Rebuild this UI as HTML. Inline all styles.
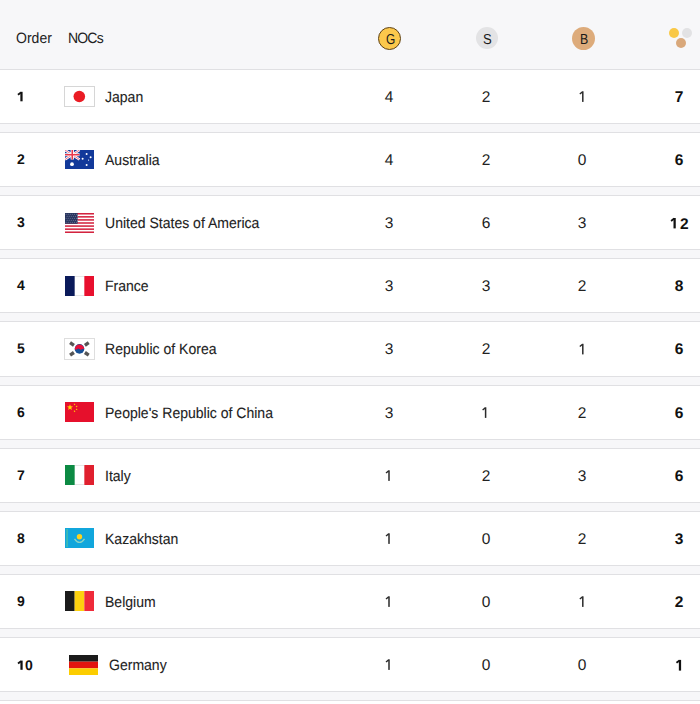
<!DOCTYPE html>
<html><head><meta charset="utf-8"><style>
*{margin:0;padding:0;box-sizing:border-box}
html,body{width:700px;height:704px;overflow:hidden;background:#f7f7f9;font-family:"Liberation Sans",sans-serif;color:#222;}
.abs{position:absolute}
.hd{position:absolute;left:0;top:0;width:700px;height:69px;background:#f7f7f9;}
.ht{position:absolute;top:31px;font-size:15px;line-height:16px;color:#222;text-rendering:geometricPrecision;transform:scaleX(0.935);transform-origin:0 0}
.ml{position:absolute;top:32px;font-size:14.5px;line-height:16px;color:#1a1a1a;text-rendering:geometricPrecision;transform-origin:0 0}
.medal{position:absolute;top:27px;width:22px;height:22px;border-radius:50%;font-size:14px;line-height:22px;text-align:center;color:#222;}
.row{position:absolute;left:0;width:700px;background:#fff;border-top:1px solid #e0e0e3;border-bottom:1px solid #e0e0e3;}
.t{position:absolute;font-size:14px;line-height:16px;white-space:nowrap;text-rendering:geometricPrecision}
.nm{font-size:15px;transform:scaleX(0.935);transform-origin:0 0;-webkit-text-stroke:0.1px #222}
.ord{font-weight:bold;color:#111;left:16px;font-size:14px}
.num{width:40px;text-align:center;font-size:15.5px}
.tot{font-weight:bold;color:#111;width:40px;text-align:center;font-size:15.5px}
.flag{position:absolute;}
.flag svg{display:block}
</style></head><body>
<div class="hd">
<div class="ht" style="left:16px">Order</div>
<div class="ht" style="left:68px;letter-spacing:-0.9px">NOCs</div>
<div class="medal" style="left:378px;width:23px;height:23px;background:#fcc84c;border:1px solid #5e4218"></div>
<div class="ml" style="left:386px;transform:scaleX(0.82)">G</div>
<div class="medal" style="left:476px;background:#e3e3e5"></div>
<div class="ml" style="left:483px;transform:scaleX(0.9)">S</div>
<div class="medal" style="left:572px;width:23px;height:23px;background:#ddab7b"></div>
<div class="ml" style="left:580px;transform:scaleX(0.85)">B</div>
<div class="abs" style="left:669px;top:28px;width:10px;height:10px;border-radius:50%;background:#f9c846"></div>
<div class="abs" style="left:682px;top:28px;width:10px;height:10px;border-radius:50%;background:#e2e2e4"></div>
<div class="abs" style="left:676px;top:38px;width:10px;height:10px;border-radius:50%;background:#d9a87b"></div>
</div>
<div class="abs" style="left:0;top:69px;width:700px;height:1px;background:#e0e0e3"></div>
<div class="row" style="top:69px;height:55px"></div><div class="flag" style="left:64px;top:86px"><svg width="31" height="21" viewBox="0 0 31 21"><rect x="0.5" y="0.5" width="30" height="20" fill="#fff" stroke="#d6d6d6"/><circle cx="15.3" cy="10.5" r="5.8" fill="#ea1c24"/></svg></div><div class="t nm" style="left:105px;top:90px">Japan</div><div class="t num" style="left:369px;top:90px">4</div><div class="t num" style="left:466px;top:90px">2</div><div class="t tot" style="left:659px;top:90px">7</div>
<div class="row" style="top:132px;height:55px"></div><div class="t ord" style="top:151px;left:17px">2</div><div class="flag" style="left:65px;top:150px"><svg width="29" height="19" viewBox="0 0 29 19"><rect width="29" height="19" fill="#12399a"/><g transform="scale(1.036,0.95)"><path d="M0 0L14 10M14 0L0 10" stroke="#fff" stroke-width="2.4"/><path d="M0 0L14 10M14 0L0 10" stroke="#e8506a" stroke-width="0.8"/><path d="M7 0V10M0 5H14" stroke="#fff" stroke-width="3.2"/><path d="M7 0V10M0 5H14" stroke="#e8364a" stroke-width="1.5"/></g><circle cx="7" cy="14.2" r="1.9" fill="#fff"/><circle cx="21.6" cy="4.1" r="1" fill="#fff"/><circle cx="17.6" cy="8.7" r="1" fill="#fff"/><circle cx="25.6" cy="7.3" r="1" fill="#fff"/><circle cx="21.6" cy="15" r="1" fill="#fff"/><circle cx="23.6" cy="10.1" r="0.6" fill="#fff"/></svg></div><div class="t nm" style="left:105px;top:153px">Australia</div><div class="t num" style="left:369px;top:153px">4</div><div class="t num" style="left:466px;top:153px">2</div><div class="t num" style="left:562px;top:153px">0</div><div class="t tot" style="left:659px;top:153px">6</div>
<div class="row" style="top:195px;height:55px"></div><div class="t ord" style="top:214px;left:17px">3</div><div class="flag" style="left:65px;top:213px"><svg width="29" height="20" viewBox="0 0 29 20"><rect width="29" height="20" fill="#fff"/><rect y="0.000" width="29" height="1.538" fill="#d3233f"/><rect y="3.077" width="29" height="1.538" fill="#d3233f"/><rect y="6.154" width="29" height="1.538" fill="#d3233f"/><rect y="9.231" width="29" height="1.538" fill="#d3233f"/><rect y="12.308" width="29" height="1.538" fill="#d3233f"/><rect y="15.385" width="29" height="1.538" fill="#d3233f"/><rect y="18.462" width="29" height="1.538" fill="#d3233f"/><rect width="12.6" height="10.769" fill="#27345e"/><circle cx="1.10" cy="1.20" r="0.42" fill="#c8cde0"/><circle cx="3.15" cy="1.20" r="0.42" fill="#c8cde0"/><circle cx="5.20" cy="1.20" r="0.42" fill="#c8cde0"/><circle cx="7.25" cy="1.20" r="0.42" fill="#c8cde0"/><circle cx="9.30" cy="1.20" r="0.42" fill="#c8cde0"/><circle cx="11.35" cy="1.20" r="0.42" fill="#c8cde0"/><circle cx="2.10" cy="3.20" r="0.42" fill="#c8cde0"/><circle cx="4.15" cy="3.20" r="0.42" fill="#c8cde0"/><circle cx="6.20" cy="3.20" r="0.42" fill="#c8cde0"/><circle cx="8.25" cy="3.20" r="0.42" fill="#c8cde0"/><circle cx="10.30" cy="3.20" r="0.42" fill="#c8cde0"/><circle cx="12.35" cy="3.20" r="0.42" fill="#c8cde0"/><circle cx="1.10" cy="5.20" r="0.42" fill="#c8cde0"/><circle cx="3.15" cy="5.20" r="0.42" fill="#c8cde0"/><circle cx="5.20" cy="5.20" r="0.42" fill="#c8cde0"/><circle cx="7.25" cy="5.20" r="0.42" fill="#c8cde0"/><circle cx="9.30" cy="5.20" r="0.42" fill="#c8cde0"/><circle cx="11.35" cy="5.20" r="0.42" fill="#c8cde0"/><circle cx="2.10" cy="7.20" r="0.42" fill="#c8cde0"/><circle cx="4.15" cy="7.20" r="0.42" fill="#c8cde0"/><circle cx="6.20" cy="7.20" r="0.42" fill="#c8cde0"/><circle cx="8.25" cy="7.20" r="0.42" fill="#c8cde0"/><circle cx="10.30" cy="7.20" r="0.42" fill="#c8cde0"/><circle cx="12.35" cy="7.20" r="0.42" fill="#c8cde0"/><circle cx="1.10" cy="9.20" r="0.42" fill="#c8cde0"/><circle cx="3.15" cy="9.20" r="0.42" fill="#c8cde0"/><circle cx="5.20" cy="9.20" r="0.42" fill="#c8cde0"/><circle cx="7.25" cy="9.20" r="0.42" fill="#c8cde0"/><circle cx="9.30" cy="9.20" r="0.42" fill="#c8cde0"/><circle cx="11.35" cy="9.20" r="0.42" fill="#c8cde0"/></svg></div><div class="t nm" style="left:105px;top:216px">United States of America</div><div class="t num" style="left:369px;top:216px">3</div><div class="t num" style="left:466px;top:216px">6</div><div class="t num" style="left:562px;top:216px">3</div><div class="t tot" style="left:680px;top:217px;width:auto;text-align:left">2</div>
<div class="row" style="top:258px;height:55px"></div><div class="t ord" style="top:277px;left:17px">4</div><div class="flag" style="left:65px;top:276px"><svg width="29" height="20" viewBox="0 0 29 20"><rect width="29" height="20" fill="#fff"/><rect x="9.67" y="0" width="9.67" height="0.7" fill="#dcdcdc"/><rect x="9.67" y="19.3" width="9.67" height="0.7" fill="#dcdcdc"/><rect width="9.67" height="20" fill="#0a1a5a"/><rect x="19.33" width="9.67" height="20" fill="#e8102e"/></svg></div><div class="t nm" style="left:105px;top:279px">France</div><div class="t num" style="left:369px;top:279px">3</div><div class="t num" style="left:466px;top:279px">3</div><div class="t num" style="left:562px;top:279px">2</div><div class="t tot" style="left:659px;top:279px">8</div>
<div class="row" style="top:321px;height:56px"></div><div class="t ord" style="top:340px;left:17px">5</div><div class="flag" style="left:64px;top:338px"><svg width="31" height="22" viewBox="0 0 31 22"><rect x="0.5" y="0.5" width="30" height="21" fill="#fff" stroke="#dedede"/><g transform="translate(15.5,10.9)"><circle r="4.8" fill="#164f94"/><path d="M-4.8 0.4A4.8 4.8 0 0 1 4.8 0.4Q3.6 -0.6 2.4 0.3Q1.2 1.2 0 0.2Q-1.2 -0.8 -2.4 0.3Q-3.6 1.2 -4.8 0.4z" fill="#e8113b"/></g><g fill="#555"><rect x="-1.7" y="-2.3" width="3.4" height="4.6" transform="translate(8,6) rotate(-56)"/><rect x="-1.7" y="-2.3" width="3.4" height="4.6" transform="translate(22.8,6) rotate(56)"/><rect x="-1.7" y="-2.3" width="3.4" height="4.6" transform="translate(8,15.8) rotate(56)"/><rect x="-1.7" y="-2.3" width="3.4" height="4.6" transform="translate(22.8,15.8) rotate(-56)"/></g></svg></div><div class="t nm" style="left:105px;top:342px">Republic of Korea</div><div class="t num" style="left:369px;top:342px">3</div><div class="t num" style="left:466px;top:342px">2</div><div class="t tot" style="left:659px;top:342px">6</div>
<div class="row" style="top:385px;height:55px"></div><div class="t ord" style="top:404px;left:17px">6</div><div class="flag" style="left:65px;top:402px"><svg width="29" height="20" viewBox="0 0 29 20"><rect width="29" height="20" fill="#e6102c"/><g fill="#ffd400"><polygon points="5.00,2.20 5.79,4.31 8.04,4.41 6.28,5.82 6.88,7.99 5.00,6.74 3.12,7.99 3.72,5.82 1.96,4.41 4.21,4.31"/><polygon points="9.98,1.37 9.98,2.14 10.70,2.44 9.96,2.68 9.90,3.46 9.44,2.83 8.69,3.02 9.14,2.38 8.73,1.72 9.47,1.96"/><polygon points="12.31,3.66 12.05,4.39 12.62,4.91 11.84,4.89 11.52,5.60 11.30,4.85 10.53,4.77 11.17,4.33 11.02,3.57 11.63,4.04"/><polygon points="11.60,6.20 11.87,6.93 12.65,6.96 12.04,7.44 12.25,8.19 11.60,7.76 10.95,8.19 11.16,7.44 10.55,6.96 11.33,6.93"/><polygon points="9.98,8.27 9.98,9.04 10.70,9.34 9.96,9.58 9.90,10.36 9.44,9.73 8.69,9.92 9.14,9.28 8.73,8.62 9.47,8.86"/></g></svg></div><div class="t nm" style="left:105px;top:406px">People's Republic of China</div><div class="t num" style="left:369px;top:406px">3</div><div class="t num" style="left:562px;top:406px">2</div><div class="t tot" style="left:659px;top:406px">6</div>
<div class="row" style="top:448px;height:55px"></div><div class="t ord" style="top:467px;left:17px">7</div><div class="flag" style="left:65px;top:465px"><svg width="29" height="20" viewBox="0 0 29 20"><rect width="29" height="20" fill="#fff"/><rect x="9.67" y="0" width="9.67" height="0.7" fill="#dcdcdc"/><rect x="9.67" y="19.3" width="9.67" height="0.7" fill="#dcdcdc"/><rect width="9.67" height="20" fill="#0c8a43"/><rect x="19.33" width="9.67" height="20" fill="#e0202e"/></svg></div><div class="t nm" style="left:105px;top:469px">Italy</div><div class="t num" style="left:466px;top:469px">2</div><div class="t num" style="left:562px;top:469px">3</div><div class="t tot" style="left:659px;top:469px">6</div>
<div class="row" style="top:511px;height:55px"></div><div class="t ord" style="top:530px;left:17px">8</div><div class="flag" style="left:65px;top:528px"><svg width="29" height="20" viewBox="0 0 29 20"><rect width="29" height="20" fill="#11a6dc"/><rect x="1.2" y="1" width="1.8" height="18" fill="#4cc2a6" opacity="0.7"/><circle cx="14.5" cy="8.8" r="2.7" fill="#ffd21c"/><path d="M9.5 10.8Q14.5 18 19.5 10.8" stroke="#8ad4c4" stroke-width="1.3" fill="none"/></svg></div><div class="t nm" style="left:105px;top:532px">Kazakhstan</div><div class="t num" style="left:466px;top:532px">0</div><div class="t num" style="left:562px;top:532px">2</div><div class="t tot" style="left:659px;top:532px">3</div>
<div class="row" style="top:574px;height:55px"></div><div class="t ord" style="top:593px;left:17px">9</div><div class="flag" style="left:65px;top:591px"><svg width="29" height="20" viewBox="0 0 29 20"><rect width="9.67" height="20" fill="#1b1b1b"/><rect x="9.67" width="9.67" height="20" fill="#fdd10f"/><rect x="19.33" width="9.67" height="20" fill="#ef2b3a"/></svg></div><div class="t nm" style="left:105px;top:595px">Belgium</div><div class="t num" style="left:466px;top:595px">0</div><div class="t tot" style="left:659px;top:595px">2</div>
<div class="row" style="top:637px;height:55px"></div><div class="t ord" style="top:657px;left:25px">0</div><div class="flag" style="left:69px;top:655px"><svg width="29" height="20" viewBox="0 0 29 20"><rect width="29" height="6.67" fill="#1b1b1b"/><rect y="6.67" width="29" height="6.67" fill="#e2140f"/><rect y="13.33" width="29" height="6.67" fill="#fccd00"/></svg></div><div class="t nm" style="left:109px;top:658px">Germany</div><div class="t num" style="left:466px;top:658px">0</div><div class="t num" style="left:562px;top:658px">0</div>
<svg class="abs" style="left:0;top:0" width="700" height="704" viewBox="0 0 700 704"><g fill="#1c1c1c"><rect x="20.35" y="91.80" width="2.25" height="9.50" fill="#111"/><path d="M21.05 92.40 L17.95 94.70" stroke-width="1.9" stroke="#111"/><rect x="582.05" y="91.30" width="1.5" height="10.60" fill="#2a2a2a"/><path d="M582.50 91.90 L579.80 94.00" stroke-width="1.35" stroke="#2a2a2a"/><rect x="673.50" y="218.00" width="2.25" height="10.40" fill="#111"/><path d="M674.20 218.60 L671.10 220.90" stroke-width="1.9" stroke="#111"/><rect x="582.05" y="343.80" width="1.5" height="10.60" fill="#2a2a2a"/><path d="M582.50 344.40 L579.80 346.50" stroke-width="1.35" stroke="#2a2a2a"/><rect x="484.85" y="407.30" width="1.5" height="10.60" fill="#2a2a2a"/><path d="M485.30 407.90 L482.60 410.00" stroke-width="1.35" stroke="#2a2a2a"/><rect x="388.25" y="470.30" width="1.5" height="10.60" fill="#2a2a2a"/><path d="M388.70 470.90 L386.00 473.00" stroke-width="1.35" stroke="#2a2a2a"/><rect x="388.25" y="533.30" width="1.5" height="10.60" fill="#2a2a2a"/><path d="M388.70 533.90 L386.00 536.00" stroke-width="1.35" stroke="#2a2a2a"/><rect x="388.25" y="596.30" width="1.5" height="10.60" fill="#2a2a2a"/><path d="M388.70 596.90 L386.00 599.00" stroke-width="1.35" stroke="#2a2a2a"/><rect x="582.05" y="596.30" width="1.5" height="10.60" fill="#2a2a2a"/><path d="M582.50 596.90 L579.80 599.00" stroke-width="1.35" stroke="#2a2a2a"/><rect x="20.40" y="660.60" width="2.25" height="9.20" fill="#111"/><path d="M21.10 661.20 L18.00 663.50" stroke-width="1.9" stroke="#111"/><rect x="388.25" y="659.30" width="1.5" height="10.60" fill="#2a2a2a"/><path d="M388.70 659.90 L386.00 662.00" stroke-width="1.35" stroke="#2a2a2a"/><rect x="678.85" y="659.90" width="2.25" height="10.70" fill="#111"/><path d="M679.55 660.50 L676.45 662.80" stroke-width="1.9" stroke="#111"/></g></svg>
<div class="row" style="top:700px;height:10px"></div>
</body></html>
